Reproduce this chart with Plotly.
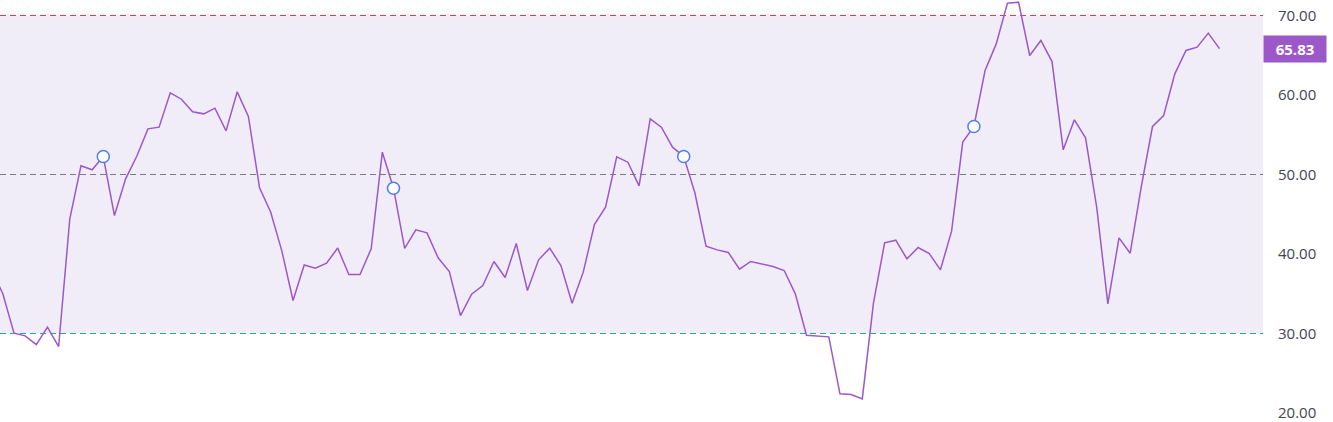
import plotly.graph_objects as go

# RSI values, one per bar (bar index starts at -2; the first two are partly off-screen)
bar_index = list(range(-2, 109))
rsi = [
    38.0, 35.0,
    30.04, 29.71, 28.60, 30.80, 28.36, 44.43, 51.09, 50.59, 52.26, 44.84,
    49.46, 52.30, 55.74, 55.95, 60.27, 59.47, 57.88, 57.63, 58.34, 55.49,
    60.40, 57.30, 48.33, 45.26, 40.36, 34.15, 38.62, 38.21, 38.84, 40.75,
    37.42, 37.42, 40.65, 52.81, 48.28, 40.70, 43.04, 42.66, 39.52, 37.80,
    32.26, 34.95, 36.04, 39.06, 37.04, 41.32, 35.41, 39.27, 40.73, 38.55,
    33.81, 37.72, 43.71, 45.89, 52.22, 51.55, 48.57, 57.00, 55.95, 53.44,
    52.26, 47.70, 40.98, 40.52, 40.19, 38.09, 39.06, 38.76, 38.43, 37.92,
    34.99, 29.79, 29.66, 29.58, 22.41, 22.33, 21.78, 33.81, 41.40, 41.74,
    39.39, 40.82, 40.06, 38.01, 42.87, 54.07, 56.04, 63.08, 66.43, 71.55,
    71.68, 64.97, 66.86, 64.21, 53.10, 56.88, 54.61, 45.89, 33.73, 42.03,
    40.10, 48.50, 56.04, 57.42, 62.66, 65.60, 66.02, 67.78, 65.83,
]

# bars carrying a circle marker
marker_bars = [8, 34, 60, 86]

# levels
upper_level = 70
middle_level = 50
lower_level = 30
tick_values = [20, 30, 40, 50, 60, 70]
tick_labels = ["20.00", "30.00", "40.00", "50.00", "60.00", "70.00"]
last_value_label = "65.83"

LINE = "#9c58c8"
FONT = "Open Sans"

marker_vals = [rsi[bar_index.index(b)] for b in marker_bars]

fig = go.Figure()

fig.add_trace(go.Scatter(
    x=bar_index, y=rsi, mode="lines",
    line=dict(color=LINE, width=1.5),
    hoverinfo="skip", showlegend=False,
))
fig.add_trace(go.Scatter(
    x=marker_bars, y=marker_vals, mode="markers",
    marker=dict(size=12, color="white", line=dict(color="#4d7ef2", width=1.5)),
    hoverinfo="skip", showlegend=False,
))

# band
fig.add_shape(type="rect", xref="paper", yref="y", x0=0, x1=1,
              y0=lower_level, y1=upper_level,
              fillcolor="rgba(126,87,194,0.11)", line=dict(width=0), layer="below")
# level lines
for lvl, col in [(upper_level, "#f23645"), (middle_level, "#787b86"), (lower_level, "#22ab94")]:
    fig.add_shape(type="line", xref="paper", yref="y", x0=0, x1=1, y0=lvl, y1=lvl,
                  line=dict(color=col, width=1, dash="6px,4px"), layer="below")

# last value label
fig.add_annotation(
    xref="paper", yref="y", x=1, y=rsi[-1], xanchor="left", yanchor="middle",
    text="<b>" + last_value_label + "</b>", showarrow=False,
    font=dict(family=FONT, size=15, color="white"),
    bgcolor=LINE, borderpad=3, width=56, align="center",
)

fig.update_layout(
    width=1333, height=422,
    margin=dict(l=0, r=70, t=0, b=0),
    paper_bgcolor="white", plot_bgcolor="white",
    showlegend=False,
    xaxis=dict(range=[-1.254, 111.9], showgrid=False, zeroline=False,
               showticklabels=False, showline=False),
    yaxis=dict(range=[18.87, 71.95], side="right", showgrid=False, zeroline=False,
               tickvals=tick_values, ticktext=tick_labels,
               tickfont=dict(family=FONT, size=15, color="#444452"),
               ticks="", ticklabelstandoff=14, showline=False,
               ticklabeloverflow="allow"),
)

fig.write_html("out.html", config={"displayModeBar": False},
               post_script="document.body.style.margin='0';document.body.style.overflow='hidden';")
